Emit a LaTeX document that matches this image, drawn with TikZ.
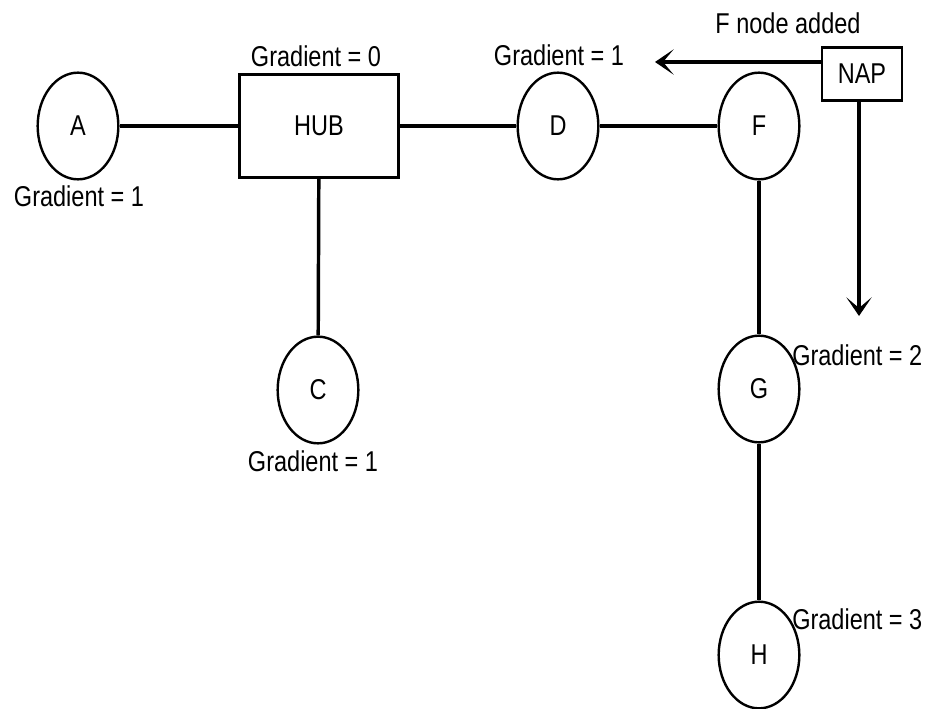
\documentclass[tikz,border=0pt]{standalone}
\usepackage{fontspec}
\setmainfont{Liberation Sans}[FakeStretch=0.82]
\usetikzlibrary{shapes.geometric,arrows.meta}

\begin{document}
\begin{tikzpicture}[x=0.75pt,y=-0.75pt,
  txt/.style={font=\fontsize{21.5pt}{24pt}\selectfont, inner sep=0pt},
  station/.style={ellipse, draw, line width=1.8pt, minimum width=60.5pt,
    minimum height=80pt, inner sep=0pt, txt},
  box/.style={rectangle, draw, inner sep=0pt, txt},
  link/.style={line width=2.6pt},
  arr/.style={line width=2.6pt, -{Stealth[length=14pt,width=19pt,inset=8pt]}}]
  \path[use as bounding box] (0,0) rectangle (930,709);

  % stations and boxes
  \node[station] (A) at (78,126) {A};
  \node[box, line width=2.6pt, minimum width=119pt, minimum height=77pt] (HUB) at (319,126) {HUB};
  \node[station] (D) at (558,126) {D};
  \node[station] (F) at (759,126) {F};
  \node[station] (C) at (318,390) {C};
  \node[station] (G) at (759,389) {G};
  \node[station] (H) at (759,655) {H};
  \node[box, line width=1.8pt, minimum width=60pt, minimum height=40pt] (NAP) at (862,74) {NAP};

  % links
  \draw[link] (A) -- (HUB);
  \draw[link] (HUB) -- (D);
  \draw[link] (D) -- (F);
  \draw[link] (HUB) -- (C);
  \draw[link] (F) -- (G);
  \draw[link] (G) -- (H);

  % announcement arrows
  \coordinate (tipL) at (655,62);
  \coordinate (tipD) at (859,316);
  \draw[arr] (NAP.west |- tipL) -- (tipL);
  \draw[arr] (NAP.south -| tipD) -- (tipD);

  % labels
  \node[txt] (lhub) at (316,56) {Gradient = 0};
  \node[txt] (ld) at (559,55) {Gradient = 1};
  \node[txt] (la) at (79,196) {Gradient = 1};
  \node[txt] (lc) at (313,461) {Gradient = 1};
  \node[txt, anchor=west] (lg) at (792,355) {Gradient = 2};
  \node[txt, anchor=west] (lh) at (792,619) {Gradient = 3};
  \node[txt] (lnap) at (788,23) {F node added};
\end{tikzpicture}
\end{document}
